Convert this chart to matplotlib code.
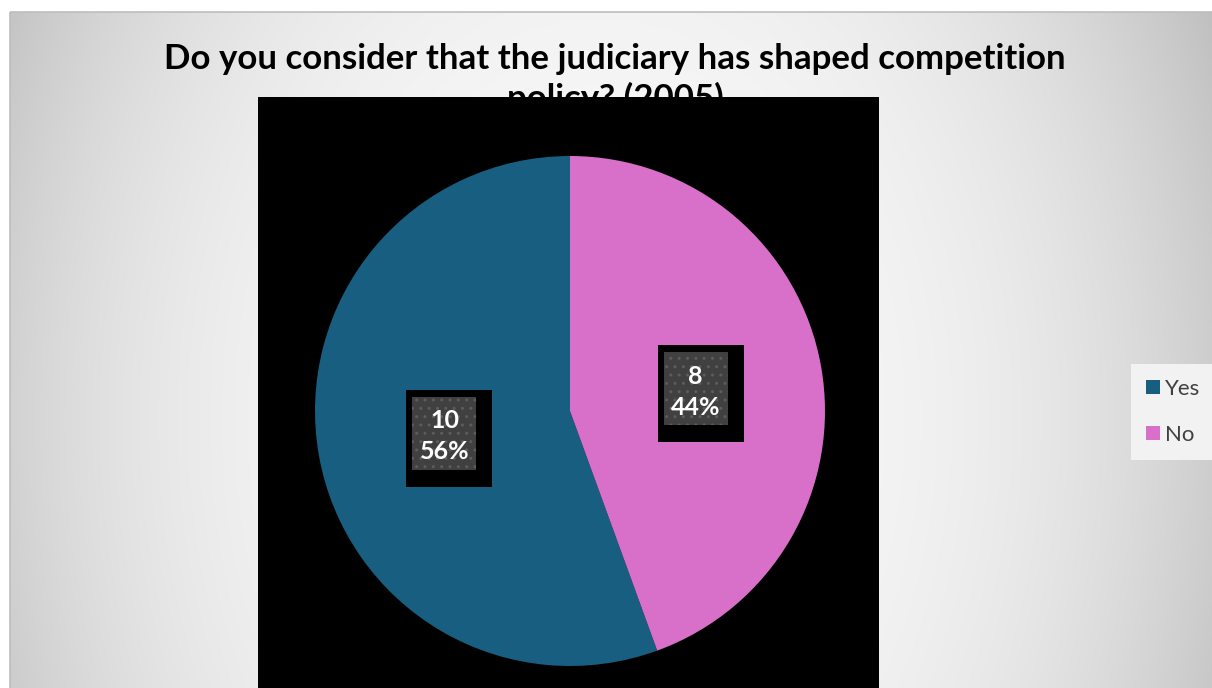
import numpy as np
import matplotlib
matplotlib.use("Agg")
import matplotlib.pyplot as plt
from matplotlib.patches import Rectangle

# survey answers
categories = ["Yes", "No"]
counts = [10, 8]
colors = ["#175e80", "#d870c9"]
title = "Do you consider that the judiciary has shaped competition\npolicy? (2005)"

W, H = 1212, 688
plt.rcParams["font.family"] = ["Lato", "DejaVu Sans"]

fig = plt.figure(figsize=(W / 100, H / 100), dpi=100)
fig.patch.set_facecolor("white")

# chart-area background: soft elliptical grey gradient
bg = fig.add_axes([0, 0, 1, 1], zorder=-2)
bg.axis("off")
x0, y0 = 10, 12
xx, yy = np.meshgrid(np.arange(x0, W) + 0.5, np.arange(y0, H) + 0.5)
r = np.sqrt(((xx - 600) / 640) ** 2 + ((yy - 420) / 900) ** 2)
shade = np.clip(248 - 48 * r ** 2.8, 190, 250) / 255
bg.imshow(np.dstack([shade] * 3), extent=(x0, W, H, y0), aspect="auto",
          interpolation="bilinear")
bg.add_patch(Rectangle((x0 - 0.5, y0 - 0.5), W, H, fill=False,
                       edgecolor="#bdbdbd", linewidth=1.2))
bg.set_xlim(0, W)
bg.set_ylim(H, 0)

# title sits behind the black plot area
t = fig.text(615 / W, 1 - 43 / H, title, ha="center", va="top",
             fontsize=24, fontweight="bold", color="black",
             linespacing=1.25, zorder=0.5)
renderer = fig.canvas.get_renderer()
for _ in range(4):
    w = t.get_window_extent(renderer).width
    t.set_fontsize(t.get_fontsize() * 901 / w)

# plot area in pixel units (y upwards)
left, right, top = 258, 879, 97
ax = fig.add_axes([left / W, 0, (right - left) / W, (H - top) / H], zorder=1)
cx, cy, rad = 570, H - 411, 255
total = sum(counts)

wedges, texts, autotexts = ax.pie(
    counts, colors=colors, startangle=90, counterclock=True,
    center=(cx, cy), radius=rad, pctdistance=0.5,
    autopct=lambda p: f"{round(p * total / 100)}\n{p:.0f}%",
    wedgeprops=dict(linewidth=0),
    textprops=dict(color="white", fontsize=18, fontweight="bold"))
ax.set_aspect("auto")
ax.set_xlim(left, right)
ax.set_ylim(0, H - top)
ax.set_frame_on(True)
ax.set_facecolor("black")
for s in ax.spines.values():
    s.set_visible(False)
ax.set_xticks([])
ax.set_yticks([])

# dark dotted label boxes with a black rim
for at in autotexts:
    lx, ly = at.get_position()
    at.set_position((lx, ly - 3))
    at.set_linespacing(1.42)
    at.set_zorder(4)
    ax.add_patch(Rectangle((lx - 38, ly - 53.5), 86, 97, facecolor="black",
                           edgecolor="none", zorder=2))
    ax.add_patch(Rectangle((lx - 32, ly - 36.5), 64, 73, facecolor="#404040",
                           edgecolor="#5c5c5c", linewidth=0, hatch="..",
                           zorder=3))

leg = fig.legend(wedges, categories, loc="upper left",
                 bbox_to_anchor=(1131 / W, 1 - 364 / H), borderaxespad=0,
                 frameon=True, fancybox=False, facecolor="#f2f2f2",
                 edgecolor="none", framealpha=1, fontsize=16,
                 handlelength=0.62, handleheight=0.62, handletextpad=0.25,
                 labelspacing=1.15, borderpad=0.68)
leg.set_zorder(5)
for txt in leg.get_texts():
    txt.set_color("#404040")

fig.savefig("out.png", dpi=100, facecolor="white")
